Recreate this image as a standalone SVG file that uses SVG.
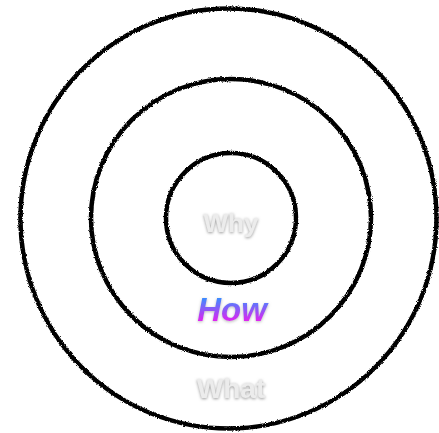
<svg xmlns="http://www.w3.org/2000/svg" width="439" height="433" viewBox="0 0 439 433">
<style>
.ring{fill:none;stroke:#000;stroke-width:4.5;filter:url(#rough)}
.lbl{font-family:"Liberation Sans",Arial,sans-serif;font-weight:bold;text-anchor:middle;fill:#ececec;filter:url(#shadow)}
.how{font-family:"Liberation Sans",Arial,sans-serif;font-weight:bold;font-style:italic;text-anchor:middle;fill:url(#grad);filter:url(#shadow2)}
</style>
<defs>
<filter id="rough" x="-5%" y="-5%" width="110%" height="110%">
<feTurbulence type="fractalNoise" baseFrequency="1.2" numOctaves="2" seed="3"/>
<feDisplacementMap in="SourceGraphic" scale="3" xChannelSelector="R" yChannelSelector="G"/>
</filter>
<filter id="shadow" x="-20%" y="-30%" width="140%" height="160%">
<feGaussianBlur in="SourceAlpha" stdDeviation="1.5"/>
<feOffset dx="0" dy="1" result="b"/>
<feFlood flood-color="#999"/>
<feComposite in2="b" operator="in"/>
<feMerge><feMergeNode/><feMergeNode in="SourceGraphic"/></feMerge>
</filter>
<filter id="shadow2" x="-20%" y="-30%" width="140%" height="160%">
<feGaussianBlur in="SourceAlpha" stdDeviation="1.5"/>
<feOffset dx="0" dy="1" result="b"/>
<feFlood flood-color="#bbb"/>
<feComposite in2="b" operator="in"/>
<feMerge><feMergeNode/><feMergeNode in="SourceGraphic"/></feMerge>
</filter>
<linearGradient id="grad" gradientUnits="userSpaceOnUse" x1="0" y1="298" x2="0" y2="322">
<stop offset="0" stop-color="#3a8dff"/>
<stop offset="1" stop-color="#e81ef0"/>
</linearGradient>
</defs>
<g id="what">
<ellipse class="ring" cx="228.5" cy="218.5" rx="208" ry="210"/>
<text class="lbl" x="231" y="398" font-size="28">What</text>
</g>
<g id="how">
<ellipse class="ring" cx="231" cy="218" rx="140" ry="139"/>
<text class="how" x="232" y="321" font-size="33">How</text>
</g>
<g id="why">
<ellipse class="ring" cx="231" cy="218" rx="65" ry="65"/>
<text class="lbl" x="231" y="232" font-size="26">Why</text>
</g>
<g id="connectors"/>
</svg>
